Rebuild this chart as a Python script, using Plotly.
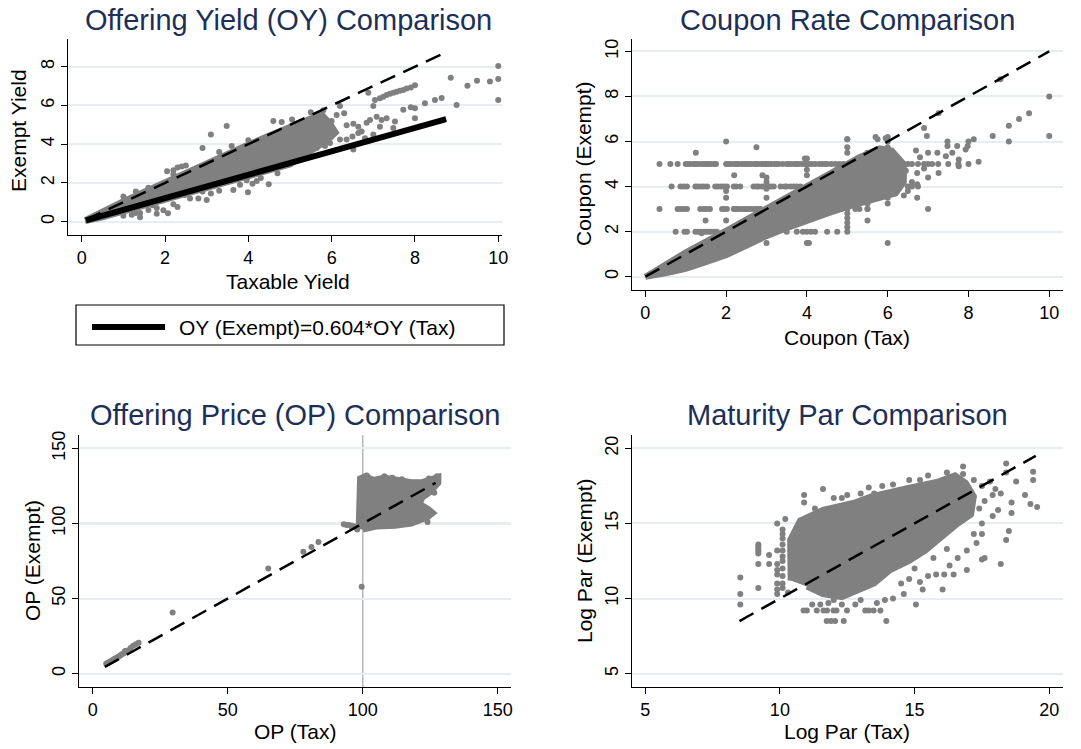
import plotly.graph_objects as go

W, H = 1081, 749
GRAY = '#808080'
FONT = 'Liberation Sans, Arial, sans-serif'
TITLE_COLOR = '#1e2f56'

# ---------------- Panel 1: Offering Yield ----------------
oy_core_x = [0.08, 0.5, 1.0, 1.5, 2.0, 2.5, 3.0, 3.5, 4.0, 4.5, 5.0, 5.4, 5.75, 5.95, 6.1, 5.9, 5.6, 5.3,
             5.0, 4.5, 4.0, 3.5, 3.0, 2.5, 2.0, 1.5, 1.0, 0.5, 0.08]
oy_core_y = [0.08, 0.55, 1.05, 1.55, 2.05, 2.55, 3.02, 3.5, 3.98, 4.45, 4.92, 5.3, 5.55, 5.1, 4.6, 4.2, 3.8, 3.35,
             2.95, 2.65, 2.35, 2.03, 1.72, 1.4, 1.1, 0.78, 0.48, 0.22, 0.03]
oy_pts_x = [1.0, 1.3, 1.6, 2.05, 2.2, 2.3, 2.4, 2.5, 2.2, 2.9, 3.1, 3.48, 3.3, 3.6, 4.0, 4.6, 4.8, 5.05, 5.5, 5.8,
            1.0, 1.2, 1.4, 1.6, 1.8, 1.96, 2.07, 2.2, 2.48, 2.6, 2.8, 3.0, 3.1, 3.3, 3.64, 3.8, 3.96, 3.99, 4.1,
            4.2, 4.49, 4.3, 4.7, 2.9, 1.3, 1.7, 2.3, 1.8, 1.4,
            6.12, 6.36, 6.52, 6.64, 6.84, 6.92, 7.08, 7.2, 7.32, 7.16, 7.48, 7.52, 7.72, 6.52, 6.36, 6.2, 6.04,
            5.96, 5.84, 5.64, 6.64, 6.72, 6.2, 6.0, 6.3, 5.9, 6.8, 7.0, 6.5,
            7.0, 7.04, 7.16, 7.24, 7.32, 7.4, 7.48, 7.56, 7.64, 7.72, 7.8, 7.9, 8.0, 6.88,
            8.0, 7.9, 8.0, 8.24, 8.48, 8.64, 8.86, 9.0, 9.26, 9.49, 9.8, 10.0, 10.0, 10.0]
oy_pts_y = [1.3, 1.55, 1.75, 2.6, 2.65, 2.8, 2.85, 2.9, 2.45, 3.8, 4.5, 4.94, 3.6, 3.9, 4.2, 5.2, 5.15, 5.28, 5.65, 5.75,
            0.3, 0.35, 0.45, 0.6, 0.7, 0.59, 0.43, 0.9, 1.38, 1.2, 1.2, 1.12, 1.45, 1.6, 1.63, 1.9, 2.14, 1.52, 1.95,
            2.1, 1.93, 2.25, 2.5, 1.55, 0.45, 0.85, 0.75, 0.41, 0.23,
            5.5, 4.98, 5.06, 4.9, 5.1, 5.25, 5.42, 5.25, 5.34, 4.9, 4.83, 5.17, 5.78, 3.72, 4.24, 4.24, 4.58,
            4.06, 3.9, 3.8, 4.58, 4.66, 5.97, 5.2, 5.6, 4.8, 4.3, 4.5, 4.4,
            5.97, 6.28, 6.37, 6.45, 6.54, 6.6, 6.66, 6.7, 6.76, 6.8, 6.87, 6.92, 7.04, 6.66,
            5.85, 5.9, 5.34, 6.11, 6.28, 6.38, 7.43, 6.02, 7.01, 7.27, 7.23, 8.04, 7.37, 6.28]
oy_diag_x = [0.1, 8.75]
oy_diag_y = [0.1, 8.75]
oy_fit_x = [0.1, 8.75]
oy_fit_y = [0.06, 5.29]

# ---------------- Panel 2: Coupon ----------------
cp_core_x = [0.0, 0.5, 1.0, 2.0, 3.0, 4.0, 4.8, 5.3, 5.8, 6.1, 6.4, 6.4, 6.2, 5.8, 5.3, 5.0, 4.5, 4.0, 3.5,
             3.0, 2.5, 2.0, 1.5, 1.0, 0.5, 0.0]
cp_core_y = [0.0, 0.55, 1.08, 2.05, 3.05, 4.02, 4.85, 5.3, 5.7, 5.6, 5.0, 4.2, 3.7, 3.5, 3.3, 3.1, 2.8, 2.5,
             2.15, 1.8, 1.4, 0.95, 0.65, 0.35, 0.15, 0.0]
cp_row5_x = [0.35, 0.62, 0.8, 1.0, 1.05, 1.12, 1.2, 1.25, 1.3, 1.38, 1.45, 1.5, 1.56, 1.62, 1.7, 1.75,
             2.0, 2.06, 2.12, 2.2, 2.25, 2.3, 2.38, 2.45, 2.5, 2.56, 2.62, 2.7, 2.75, 2.8, 2.88, 2.95, 3.0,
             3.05, 3.12, 3.2, 3.25, 3.3, 3.4, 3.5, 3.55, 3.62, 3.7, 3.75, 3.8, 3.88, 3.95, 4.0, 4.05, 4.12,
             4.2, 4.3, 4.38, 4.45, 4.5, 4.6, 4.7, 4.8, 4.9,
             5.5, 5.6, 5.75, 5.85, 5.9, 6.0, 6.1, 6.2, 6.3, 6.4, 6.5, 6.6, 6.75, 6.9, 7.0, 7.1, 7.25, 7.5, 7.75]
cp_row4_x = [0.65, 0.87, 0.95, 1.03, 1.24, 1.3, 1.38, 1.45, 1.53, 1.73, 1.8, 1.88, 1.95, 2.02, 2.19, 2.25,
             2.35, 2.68, 2.75, 2.8, 2.88, 2.95, 3.0, 3.05, 3.12, 3.18, 3.35, 3.45, 3.5, 3.6, 3.68, 3.75, 3.84,
             5.5, 5.8, 6.0, 6.1, 6.2, 6.5, 6.6, 6.75]
cp_row3_x = [0.35, 0.8, 0.88, 0.95, 1.03, 1.36, 1.45, 1.52, 1.6, 1.9, 1.95, 2.02, 2.19, 2.25, 2.3, 2.38,
             2.45, 2.5, 2.56, 2.62, 2.7, 2.75, 2.8, 2.85, 3.0, 3.1, 3.2, 4.75, 4.85, 5.0, 5.2, 5.3, 5.5, 7.0]
cp_row2_x = [0.75, 0.97, 1.03, 1.24, 1.3, 1.38, 1.45, 1.5, 1.56, 1.62, 1.7, 1.77, 3.5, 3.75, 3.9, 4.0, 4.1,
             4.2, 4.5, 4.75, 5.0]
cp_other_x = [4.0, 4.05, 6.0, 3.0, 2.0, 5.0, 5.7, 5.75, 5.95, 6.0, 1.25, 2.75, 3.95, 2.2, 2.9, 3.0, 2.0, 2.0,
              2.0, 3.0, 3.0, 3.0, 1.49, 1.39, 5.0, 5.0, 5.0, 5.0, 5.0, 5.0, 5.0, 5.5, 5.5, 5.5, 5.5, 5.5, 6.0,
              6.0, 6.0, 6.0, 6.0, 4.0, 4.0, 4.0,
              6.97, 6.9, 7.26, 8.79, 10.0, 10.0, 9.5, 9.25, 9.0, 9.0, 8.6, 8.13, 8.0, 8.25, 8.0, 7.76, 7.76,
              7.72, 7.98, 7.93, 7.48, 7.48, 7.23, 7.44, 7.6, 7.26, 7.0, 6.73, 6.73, 6.73, 7.0, 6.8, 6.6, 6.5,
              6.4, 6.45, 6.7, 6.9]
cp_other_y = [1.5, 1.5, 1.5, 1.5, 6.0, 6.1, 6.2, 6.1, 6.15, 6.2, 5.5, 5.75, 5.25, 4.5, 4.5, 4.4, 3.5, 3.8,
              2.5, 4.2, 3.9, 3.5, 2.5, 1.93, 2.2, 2.4, 2.6, 2.8, 5.5, 5.75, 6.1, 2.5, 3.0, 3.25, 5.25, 5.5, 3.25,
              3.5, 5.5, 5.75, 6.0, 4.5, 4.75, 5.25,
              6.25, 6.6, 7.26, 8.76, 8.0, 6.25, 7.26, 7.0, 6.7, 6.0, 6.25, 6.1, 6.0, 5.1, 5.0, 4.9, 5.2,
              5.8, 5.8, 5.65, 6.0, 5.8, 5.5, 5.35, 5.5, 4.6, 4.4, 3.5, 4.1, 4.6, 5.5, 5.3, 4.2, 3.8,
              3.6, 4.7, 5.6, 4.8]
cp_diag_x = [0.0, 10.0]
cp_diag_y = [0.0, 10.0]

# ---------------- Panel 3: Offering Price ----------------
op_core_x = [98.5, 99.0, 101.0, 104.0, 108.0, 111.0, 114.0, 118.0, 122.0, 125.0, 128.0, 128.0, 125.0, 122.0,
             121.0, 124.0, 126.0, 124.0, 120.0, 118.0, 112.0, 105.0, 100.0]
op_core_y = [96.5, 130.0, 131.5, 129.0, 130.5, 129.5, 128.5, 127.5, 127.5, 129.0, 131.0, 127.0, 121.0, 117.0,
             113.0, 110.0, 107.0, 104.0, 102.0, 100.0, 98.5, 98.0, 96.0]
op_pts_x = [93.0, 94.0, 95.0, 96.0, 97.0, 97.5, 98.0, 96.0, 101.5, 108.0, 111.0, 114.5, 124.5, 127.5, 126.5,
            125.0, 119.0, 121.0, 123.0, 124.0, 99.6, 29.6, 65.0, 78.0, 81.0, 83.6,
            5.0, 5.5, 6.0, 6.5, 7.0, 7.5, 8.0, 8.5, 9.0, 9.5, 10.0, 10.5, 11.0, 11.5, 12.0, 12.5, 13.0,
            13.5, 14.0, 15.0, 16.0, 17.0]
op_pts_y = [99.5, 99.0, 99.0, 98.5, 98.0, 97.0, 96.0, 97.5, 132.0, 131.5, 130.5, 129.5, 130.0, 131.5, 120.5,
            106.5, 118.0, 115.0, 104.0, 101.0, 57.8, 40.7, 70.0, 81.1, 84.4, 87.7,
            6.5, 7.0, 7.5, 8.0, 8.5, 9.0, 9.7, 10.2, 10.8, 11.3, 11.8, 12.5, 13.0, 13.5, 15.0, 15.2, 15.0,
            15.5, 17.0, 18.5, 19.5, 20.5]
op_diag_x = [4.5, 127.0]
op_diag_y = [4.5, 127.0]
op_ref = [100.0]

# ---------------- Panel 4: Log Par ----------------
lp_core_x = [10.4, 10.38, 10.75, 11.6, 12.8, 13.4, 14.6, 15.9, 16.5, 16.9, 17.2, 17.1, 16.6, 16.0, 15.4, 14.8,
             14.1, 13.5, 12.9, 12.3, 11.6, 11.0]
lp_core_y = [11.2, 13.9, 15.2, 15.9, 16.4, 16.8, 17.3, 17.8, 18.2, 17.7, 16.8, 15.6, 14.98, 14.1, 13.2, 12.5,
             11.9, 11.0, 10.5, 10.1, 10.3, 10.8]
lp_pts_x = [8.53, 8.53, 8.53, 9.2, 9.2, 9.2, 9.2, 9.2, 9.2, 9.2, 9.6, 9.6, 9.9, 9.9, 9.9, 9.9, 9.9, 9.9, 9.9,
            9.9, 10.1, 10.1, 10.1, 10.1, 10.1, 10.1, 10.1, 10.1, 10.1, 10.1, 10.1, 10.3, 10.2,
            10.9, 10.9, 11.3, 11.6, 12.0, 12.3, 12.5, 13.0, 13.3,
            10.88, 11.0, 11.37, 11.62, 11.75, 11.99, 12.1, 12.49, 13.17, 13.3, 13.48, 13.73, 11.74, 11.9,
            12.05, 12.37, 13.95, 11.2, 11.5, 11.8, 12.0, 12.3, 12.8, 13.0, 13.6, 13.9, 14.2, 14.6, 15.05,
            15.3,
            14.5, 14.8, 15.2, 15.5, 15.8, 16.1, 16.45, 16.04, 16.3, 16.6, 16.94, 16.94, 17.2, 17.5, 17.5,
            17.3, 17.6, 17.5, 15.0, 15.7, 16.2,
            17.9, 18.1, 18.2, 18.4, 18.5, 18.4, 18.4, 18.6, 18.6, 18.77, 19.1, 19.3, 19.4, 19.4, 19.55,
            17.5, 17.8, 17.2, 17.6, 17.4, 16.8, 16.8, 16.2, 15.5, 15.2, 14.8, 14.2, 13.8, 13.5, 18.0, 17.9,
            18.2]
lp_pts_y = [11.4, 10.3, 9.6, 13.6, 13.45, 13.3, 13.15, 13.0, 12.3, 10.7, 12.9, 12.3, 15.0, 13.2, 12.3, 11.9,
            11.6, 11.0, 10.6, 10.3, 14.6, 14.3, 14.0, 13.6, 13.2, 12.8, 12.5, 12.0, 11.5, 11.0, 10.7, 10.4,
            15.3,
            16.9, 16.4, 16.0, 17.3, 16.7, 16.7, 16.9, 17.0, 17.4,
            9.2, 9.2, 9.2, 9.2, 9.2, 9.2, 9.2, 9.2, 9.2, 9.2, 9.2, 9.2, 8.5, 8.5,
            8.5, 8.5, 8.5, 9.6, 9.6, 9.7, 9.9, 9.6, 9.6, 9.9, 9.7, 9.9, 10.0, 10.3, 9.6,
            10.6,
            11.0, 11.3, 11.1, 11.5, 11.6, 11.6, 11.6, 10.6, 12.2, 12.7, 11.9, 13.2, 14.3, 14.3, 15.0,
            13.7, 12.7, 12.6, 12.0, 12.7, 13.3,
            16.9, 15.9, 12.3, 13.9, 14.5, 18.4, 19.0, 16.4, 15.7, 17.8, 16.9, 16.3, 18.44, 17.9, 16.1,
            17.5, 17.8, 17.9, 16.5, 16.0, 18.8, 18.3, 18.4, 18.2, 17.9, 17.9, 17.6, 17.5, 17.0, 17.3, 15.5,
            17.0]
lp_diag_x = [8.5, 19.5]
lp_diag_y = [8.5, 19.5]

fig = go.Figure()

DASH = '16px,9px'


def add_cloud(n, cx, cy, px_, py_):
    xa = 'x' if n == 1 else 'x%d' % n
    ya = 'y' if n == 1 else 'y%d' % n
    fig.add_trace(go.Scatter(x=cx, y=cy, xaxis=xa, yaxis=ya, mode='lines', fill='toself',
                             fillcolor=GRAY, line=dict(color=GRAY, width=6), hoverinfo='skip',
                             showlegend=False))
    fig.add_trace(go.Scatter(x=px_, y=py_, xaxis=xa, yaxis=ya, mode='markers',
                             marker=dict(color=GRAY, size=6, line=dict(width=0)), showlegend=False))


def add_line(n, x, y, width, dash=None):
    xa = 'x' if n == 1 else 'x%d' % n
    ya = 'y' if n == 1 else 'y%d' % n
    fig.add_trace(go.Scatter(x=x, y=y, xaxis=xa, yaxis=ya, mode='lines',
                             line=dict(color='black', width=width, dash=dash), showlegend=False))


add_cloud(1, oy_core_x, oy_core_y, oy_pts_x, oy_pts_y)
add_line(1, oy_diag_x, oy_diag_y, 2.5, DASH)
add_line(1, oy_fit_x, oy_fit_y, 6)

add_cloud(2, cp_core_x, cp_core_y,
          cp_row5_x + cp_row4_x + cp_row3_x + cp_row2_x + cp_other_x,
          [5.0] * len(cp_row5_x) + [4.0] * len(cp_row4_x) + [3.0] * len(cp_row3_x) + [2.0] * len(cp_row2_x)
          + cp_other_y)
add_line(2, cp_diag_x, cp_diag_y, 2.5, DASH)

add_cloud(3, op_core_x, op_core_y, op_pts_x, op_pts_y)
add_line(3, op_diag_x, op_diag_y, 2.5, DASH)

add_cloud(4, lp_core_x, lp_core_y, lp_pts_x, lp_pts_y)
add_line(4, lp_diag_x, lp_diag_y, 2.5, DASH)


def px(v):
    return v / W


def py(v):
    return 1 - v / H


axis_common = dict(showline=True, linecolor='black', linewidth=1.3, ticks='outside', ticklen=6, tickwidth=1.3,
                   tickcolor='black', tickfont=dict(size=18, color='black', family=FONT), zeroline=False,
                   automargin=False)
xbase = dict(axis_common, showgrid=False)
ybase = dict(axis_common, showgrid=True, gridcolor='#e6eef1', gridwidth=1.5, tickangle=-90)

dom = {
    1: ([68, 502], [39, 235]),
    2: ([632, 1063], [39, 290]),
    3: ([79, 511], [435, 687]),
    4: ([632, 1063], [435, 687]),
}
ranges = {
    1: ([-0.33, 10.09], [-0.69, 9.43], [0, 2, 4, 6, 8, 10], [0, 2, 4, 6, 8]),
    2: ([-0.33, 10.34], [-0.59, 10.55], [0, 2, 4, 6, 8, 10], [0, 2, 4, 6, 8, 10]),
    3: ([-5.07, 154.9], [-8.9, 158.9], [0, 50, 100, 150], [0, 50, 100, 150]),
    4: ([4.51, 20.51], [4.11, 20.89], [5, 10, 15, 20], [5, 10, 15, 20]),
}
layout_axes = {}
for n in (1, 2, 3, 4):
    (x0, x1), (y0, y1) = dom[n]
    xr, yr, xt, yt = ranges[n]
    xk = 'xaxis' if n == 1 else 'xaxis%d' % n
    yk = 'yaxis' if n == 1 else 'yaxis%d' % n
    layout_axes[xk] = dict(xbase, domain=[px(x0), px(x1)], range=xr, tickvals=xt,
                           anchor='y' if n == 1 else 'y%d' % n)
    layout_axes[yk] = dict(ybase, domain=[py(y1), py(y0)], range=yr, tickvals=yt,
                           anchor='x' if n == 1 else 'x%d' % n)

shapes = [
    dict(type='line', xref='x3', yref='y3 domain', x0=op_ref[0], x1=op_ref[0], y0=0, y1=1,
         line=dict(color='#b8b8b8', width=1.5), layer='below'),
    dict(type='line', xref='x3 domain', yref='y3', x0=0, x1=1, y0=op_ref[0], y1=op_ref[0],
         line=dict(color='#b8b8b8', width=1.5), layer='below'),
    dict(type='rect', xref='paper', yref='paper', x0=px(76), x1=px(504), y0=py(345), y1=py(305),
         line=dict(color='black', width=1.2)),
    dict(type='line', xref='paper', yref='paper', x0=px(92), x1=px(165), y0=py(327), y1=py(327),
         line=dict(color='black', width=6)),
]


def ann(text, x, y, size, color='black', angle=0, xanchor='center'):
    return dict(text=text, x=px(x), y=py(y), xref='paper', yref='paper', showarrow=False,
                font=dict(size=size, color=color, family=FONT), textangle=angle,
                xanchor=xanchor, yanchor='middle')


annotations = [
    ann('Offering Yield (OY) Comparison', 288, 20, 29, TITLE_COLOR),
    ann('Coupon Rate Comparison', 847, 20, 29, TITLE_COLOR),
    ann('Offering Price (OP) Comparison', 295, 415, 29, TITLE_COLOR),
    ann('Maturity Par Comparison', 847, 415, 29, TITLE_COLOR),
    ann('Taxable Yield', 288, 281, 21),
    ann('Exempt Yield', 18, 131, 21, angle=-90),
    ann('Coupon (Tax)', 847, 337, 21),
    ann('Coupon (Exempt)', 584, 164, 21, angle=-90),
    ann('OP (Tax)', 295, 731, 21),
    ann('OP (Exempt)', 32, 561, 21, angle=-90),
    ann('Log Par (Tax)', 847, 731, 21),
    ann('Log Par (Exempt)', 584, 561, 21, angle=-90),
    ann('OY (Exempt)=0.604*OY (Tax)', 177, 327, 21, xanchor='left'),
]

fig.update_layout(width=W, height=H, autosize=False, margin=dict(l=0, r=0, t=0, b=0),
                  paper_bgcolor='white', plot_bgcolor='white', showlegend=False,
                  font=dict(family=FONT, color='black'),
                  shapes=shapes, annotations=annotations, **layout_axes)

# remove the default 8px page margin so the figure fills the window exactly
fig.write_html('out.html', config={'displayModeBar': False},
               post_script="document.body.style.margin='0';document.body.style.overflow='hidden';")
